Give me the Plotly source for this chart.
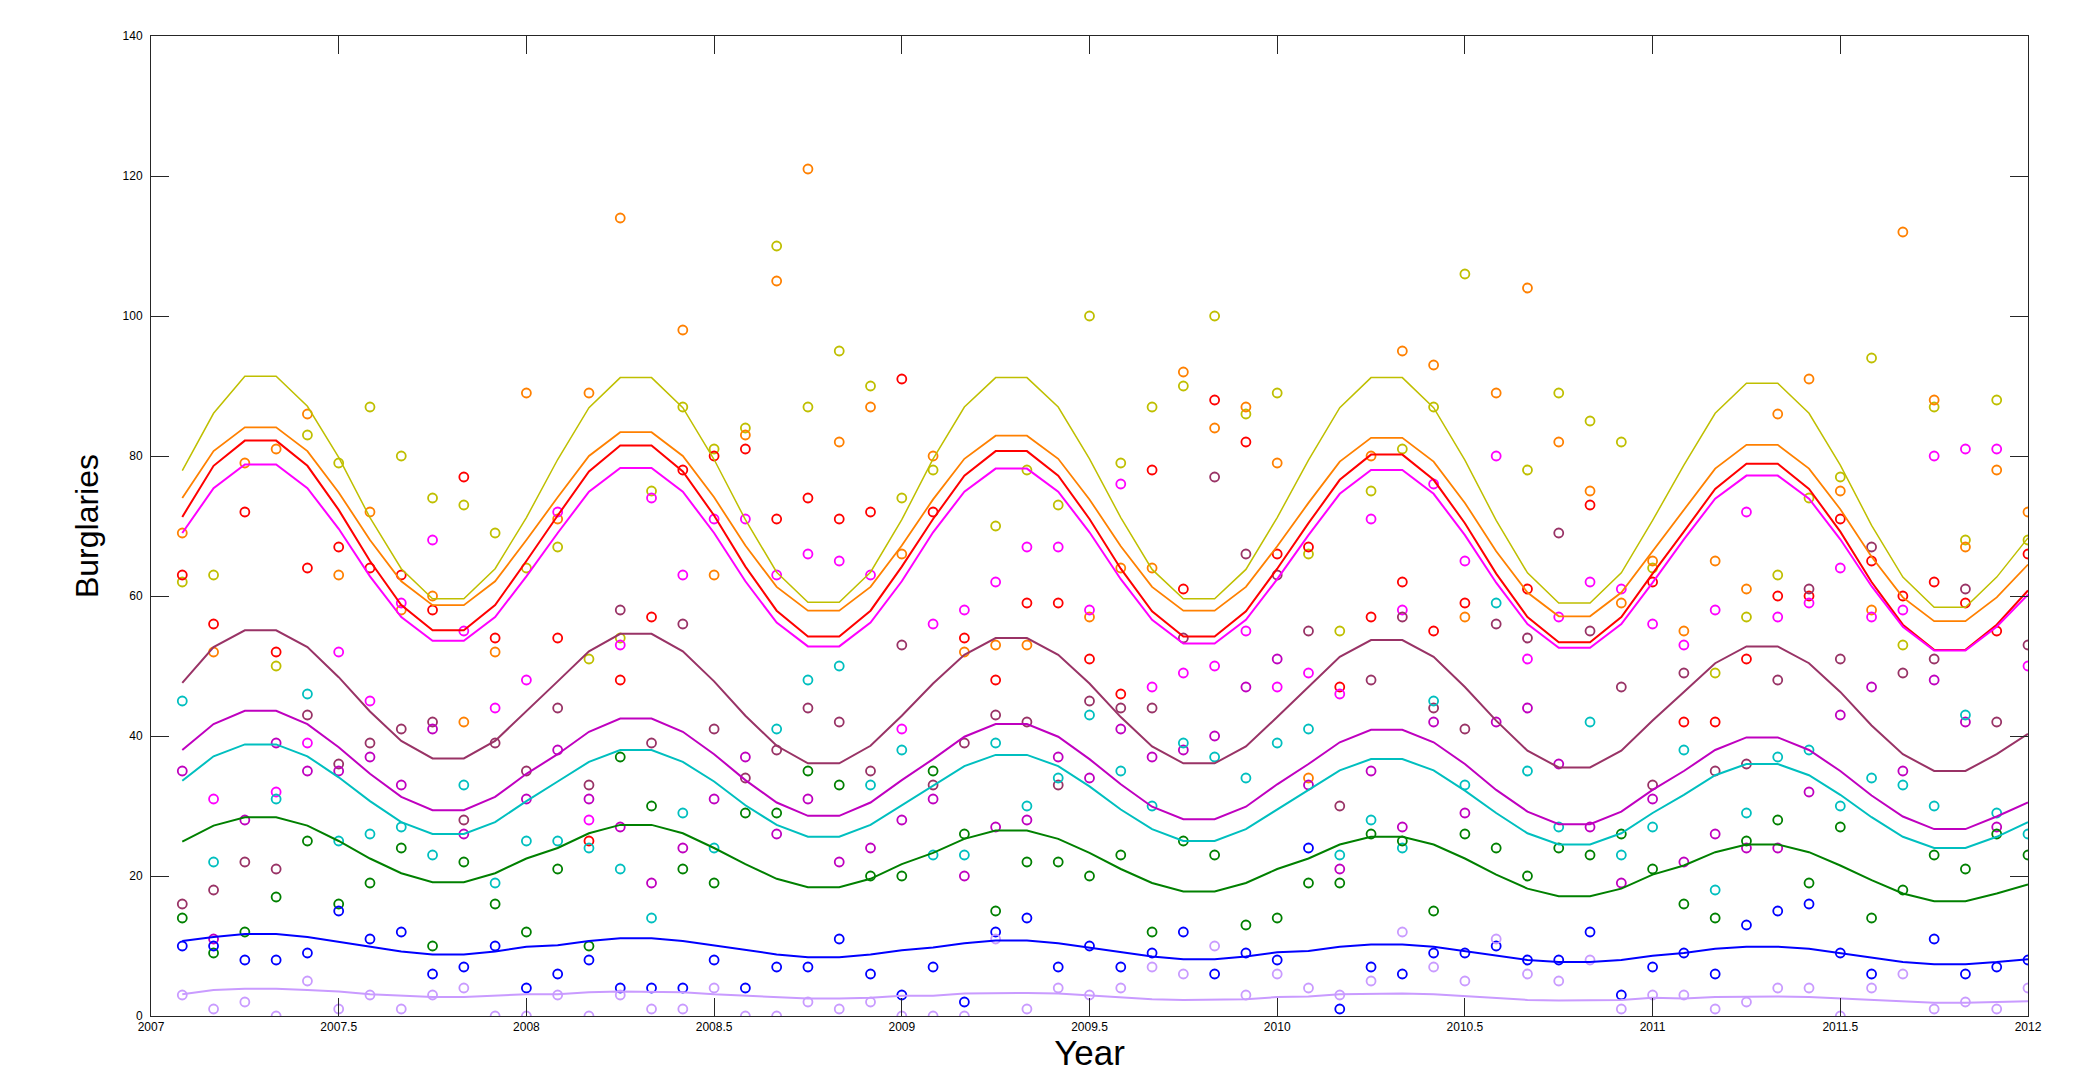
import plotly.graph_objects as go

# Monthly observation times (Feb 2007 .. Jan 2012 as decimal years)
months = [2007 + m / 12 for m in range(1, 61)]

x_tick_vals = [2007, 2007.5, 2008, 2008.5, 2009, 2009.5, 2010, 2010.5, 2011, 2011.5, 2012]
x_tick_text = ["2007", "2007.5", "2008", "2008.5", "2009", "2009.5", "2010", "2010.5", "2011", "2011.5", "2012"]
y_tick_vals = [0, 20, 40, 60, 80, 100, 120, 140]

series_names = ["Series 1", "Series 2", "Series 3", "Series 4", "Series 5",
                "Series 6", "Series 7", "Series 8", "Series 9", "Series 10"]
series_colors = ["#BFBF00", "#FF8000", "#FF0000", "#FF00FF", "#993366",
                 "#BF00BF", "#00BFBF", "#008000", "#0000FF", "#C99BFF"]

# Observed monthly burglaries (None = no visible point)
s1_pts = [62, 63, None, 50, 83, 79, 87, 80, 74, 73,
          69, 64, 67, 51, 54, 75, 87, 81, 84, 110,
          87, 95, 90, 74, 78, None, 70, 78, 73, 100,
          79, 87, 90, 100, 86, 89, 66, 55, 75, 81,
          87, 106, None, 78, 89, 85, 82, 64, None, 49,
          57, 63, 74, 77, 94, 53, 87, 68, 88, 68]
s2_pts = [69, 52, 79, 81, 86, 63, 72, 58, 60, 42,
          52, 89, 71, 89, 114, None, 98, 63, 83, 105,
          121, 82, 87, 66, 80, 52, 53, 53, None, 57,
          64, 64, 92, 84, 87, 79, 34, None, 80, 95,
          93, 57, 89, 104, 82, 75, 59, 65, 55, 65,
          61, 86, 91, 75, 58, 112, 88, 67, 78, 72]
s3_pts = [63, 56, 72, 52, 64, 67, 64, 63, 58, 77,
          54, None, 54, 25, 48, 57, 78, 80, 81, 71,
          74, 71, 72, 91, 72, 54, 48, 59, 59, 51,
          46, 78, 61, 88, 82, 66, 67, 47, 57, 62,
          55, 59, None, 61, None, 73, None, 62, 42, 42,
          51, 60, 60, 71, 65, 60, 62, 59, 55, 66]
s4_pts = [None, 31, None, 32, 39, 52, 45, 59, 68, 55,
          44, 48, 72, 28, 53, 74, 63, 71, 71, 63,
          66, 65, 63, 41, 56, 58, 62, 67, 67, 58,
          76, 47, 49, 50, 55, 47, 49, 46, 71, 58,
          76, 65, 80, 51, 57, 62, 61, 56, 53, 58,
          72, 57, 59, 64, 57, 58, 80, 81, 81, 50]
s5_pts = [16, 18, 22, 21, 43, 36, 39, 41, 42, 28,
          39, 35, 44, 33, 58, 39, 56, 41, 34, 38,
          44, 42, 35, 53, 33, 39, 43, 42, 33, 45,
          44, 44, 54, 77, 66, 63, 55, 30, 48, 57,
          44, 41, 56, 54, 69, 55, 47, 33, 49, 35,
          36, 48, 61, 51, 67, 49, 51, 61, 42, 53]
s6_pts = [35, 11, 28, 39, 35, 35, 37, 33, 41, 26,
          None, 31, 38, 31, 27, 19, 24, 31, 37, 26,
          31, 22, 24, 28, 31, 20, 27, 28, 37, 34,
          41, 37, 38, 40, 47, 51, 33, 21, 35, 27,
          42, 29, 42, 44, 36, 27, 19, 31, 22, 26,
          24, 24, 32, 43, 47, 35, 48, 42, 27, None]
s7_pts = [45, 22, None, 31, 46, 25, 26, 27, 23, 33,
          19, 25, 25, 24, 21, 14, 29, 24, None, 41,
          48, 50, 33, 38, 23, 23, 39, 30, 34, 43,
          35, 30, 39, 37, 34, 39, 41, 23, 28, 24,
          45, 33, 59, 35, 27, 42, 23, 27, 38, 18,
          29, 37, 38, 30, 34, 33, 30, 43, 29, 26]
s8_pts = [14, 9, 12, 17, 25, 16, 19, 24, 10, 22,
          16, 12, 21, 10, 37, 30, 21, 19, 29, 29,
          35, 33, 20, 20, 35, 26, 15, 22, 22, 20,
          23, 12, 25, 23, 13, 14, 19, 19, 26, 25,
          15, 26, 24, 20, 24, 23, 26, 21, 16, 14,
          25, 28, 19, 27, 14, 18, 23, 21, 26, 23]
s9_pts = [10, 10, 8, 8, 9, 15, 11, 12, 6, 7,
          10, 4, 6, 8, 4, 4, 4, 8, 4, 7,
          7, 11, 6, 3, 7, 2, 12, 14, 7, 10,
          7, 9, 12, 6, 9, 8, 24, 1, 7, 6,
          9, 9, 10, 8, 8, 12, 3, 7, 9, 6,
          13, 15, 16, 9, 6, None, 11, 6, 7, 8]
s10_pts = [3, 1, 2, 0, 5, 1, 3, 1, 3, 4,
           0, 0, 3, 0, 3, 1, 1, 4, 0, 0,
           2, 1, 2, 0, 0, 0, 11, 1, 4, 3,
           4, 7, 6, 10, 3, 6, 4, 3, 5, 12,
           7, 5, 11, 6, 5, 8, 1, 3, 3, 1,
           2, 4, 4, 0, 4, 6, 1, 2, 1, 4]

# Fitted seasonal curves (monthly)
s1_fit = [77.9, 86.1, 91.4, 91.4, 87.1, 79.8, 71.2, 63.9, 59.6, 59.6, 63.9, 71.2,
          79.5, 86.9, 91.2, 91.2, 86.9, 79.5, 70.9, 63.4, 59.1, 59.1, 63.4, 70.9,
          79.6, 87.0, 91.2, 91.2, 87.0, 79.6, 71.2, 63.8, 59.6, 59.6, 63.8, 71.2,
          79.4, 86.9, 91.2, 91.2, 86.9, 79.4, 70.8, 63.3, 59.0, 59.0, 63.3, 70.8,
          78.7, 86.1, 90.4, 90.4, 86.1, 78.7, 70.1, 62.7, 58.4, 58.4, 62.7, 68.3]
s2_fit = [74.0, 80.7, 84.1, 84.1, 80.7, 74.8, 68.0, 62.1, 58.7, 58.7, 62.1, 68.0,
          74.1, 80.0, 83.4, 83.4, 80.0, 74.1, 67.2, 61.3, 57.9, 57.9, 61.3, 67.2,
          73.8, 79.6, 82.9, 82.9, 79.6, 73.8, 67.1, 61.3, 57.9, 57.9, 61.3, 67.1,
          73.3, 79.2, 82.6, 82.6, 79.2, 73.3, 66.4, 60.5, 57.1, 57.1, 60.5, 66.4,
          72.4, 78.2, 81.6, 81.6, 78.2, 72.4, 65.6, 59.8, 56.4, 56.4, 59.8, 64.5]
s3_fit = [71.3, 78.6, 82.2, 82.2, 78.6, 72.3, 65.0, 58.7, 55.1, 55.1, 58.7, 65.0,
          71.5, 77.8, 81.5, 81.5, 77.8, 71.5, 64.2, 57.9, 54.2, 54.2, 57.9, 64.2,
          71.0, 77.2, 80.7, 80.7, 77.2, 71.0, 63.9, 57.8, 54.2, 54.2, 57.8, 63.9,
          70.4, 76.6, 80.2, 80.2, 76.6, 70.4, 63.2, 57.0, 53.4, 53.4, 57.0, 63.2,
          69.2, 75.3, 78.9, 78.9, 75.3, 69.2, 62.0, 55.9, 52.3, 52.3, 55.9, 60.8]
s4_fit = [69.0, 75.4, 78.8, 78.8, 75.4, 69.6, 62.8, 57.0, 53.6, 53.6, 57.0, 62.8,
          69.0, 74.9, 78.3, 78.3, 74.9, 69.0, 62.1, 56.2, 52.8, 52.8, 56.2, 62.1,
          69.1, 74.9, 78.2, 78.2, 74.9, 69.1, 62.4, 56.6, 53.2, 53.2, 56.6, 62.4,
          68.7, 74.6, 78.0, 78.0, 74.6, 68.7, 61.9, 56.0, 52.6, 52.6, 56.0, 61.9,
          68.1, 73.9, 77.2, 77.2, 73.9, 68.1, 61.4, 55.6, 52.2, 52.2, 55.6, 60.2]
s5_fit = [47.6, 52.7, 55.1, 55.1, 52.7, 48.4, 43.5, 39.3, 36.8, 36.8, 39.3, 43.5,
          47.8, 52.1, 54.6, 54.6, 52.1, 47.8, 42.9, 38.6, 36.1, 36.1, 38.6, 42.9,
          47.5, 51.6, 54.0, 54.0, 51.6, 47.5, 42.7, 38.5, 36.1, 36.1, 38.5, 42.7,
          47.0, 51.3, 53.7, 53.7, 51.3, 47.0, 42.2, 37.9, 35.5, 35.5, 37.9, 42.2,
          46.3, 50.4, 52.8, 52.8, 50.4, 46.3, 41.5, 37.4, 35.0, 35.0, 37.4, 40.3]
s6_fit = [38.0, 41.7, 43.6, 43.6, 41.7, 38.4, 34.6, 31.3, 29.4, 29.4, 31.3, 34.6,
          37.4, 40.6, 42.5, 42.5, 40.6, 37.4, 33.7, 30.5, 28.6, 28.6, 30.5, 33.7,
          36.7, 39.9, 41.7, 41.7, 39.9, 36.7, 33.1, 29.9, 28.1, 28.1, 29.9, 33.1,
          36.0, 39.1, 40.9, 40.9, 39.1, 36.0, 32.3, 29.2, 27.4, 27.4, 29.2, 32.3,
          35.0, 38.0, 39.8, 39.8, 38.0, 35.0, 31.5, 28.5, 26.7, 26.7, 28.5, 30.5]
s7_fit = [33.6, 37.1, 38.8, 38.8, 37.1, 34.1, 30.7, 27.7, 26.0, 26.0, 27.7, 30.7,
          33.5, 36.3, 38.0, 38.0, 36.3, 33.5, 30.1, 27.3, 25.6, 25.6, 27.3, 30.1,
          32.8, 35.7, 37.3, 37.3, 35.7, 32.8, 29.5, 26.7, 25.0, 25.0, 26.7, 29.5,
          32.2, 35.1, 36.7, 36.7, 35.1, 32.2, 29.0, 26.1, 24.5, 24.5, 26.1, 29.0,
          31.6, 34.4, 36.0, 36.0, 34.4, 31.6, 28.4, 25.6, 24.0, 24.0, 25.6, 27.7]
s8_fit = [24.9, 27.2, 28.4, 28.4, 27.2, 25.0, 22.5, 20.4, 19.1, 19.1, 20.4, 22.5,
          24.0, 26.1, 27.3, 27.3, 26.1, 24.0, 21.7, 19.6, 18.4, 18.4, 19.6, 21.7,
          23.3, 25.3, 26.5, 26.5, 25.3, 23.3, 21.0, 19.0, 17.8, 17.8, 19.0, 21.0,
          22.5, 24.5, 25.6, 25.6, 24.5, 22.5, 20.2, 18.2, 17.1, 17.1, 18.2, 20.2,
          21.5, 23.4, 24.5, 24.5, 23.4, 21.5, 19.4, 17.5, 16.4, 16.4, 17.5, 18.8]
s9_fit = [10.7, 11.3, 11.7, 11.7, 11.3, 10.6, 9.9, 9.2, 8.8, 8.8, 9.2, 9.9,
          10.1, 10.7, 11.1, 11.1, 10.7, 10.1, 9.4, 8.8, 8.4, 8.4, 8.8, 9.4,
          9.8, 10.4, 10.8, 10.8, 10.4, 9.8, 9.1, 8.5, 8.1, 8.1, 8.5, 9.1,
          9.3, 9.9, 10.2, 10.2, 9.9, 9.3, 8.6, 8.0, 7.7, 7.7, 8.0, 8.6,
          9.0, 9.6, 9.9, 9.9, 9.6, 9.0, 8.3, 7.7, 7.4, 7.4, 7.7, 8.1]
s10_fit = [3.1, 3.7, 3.9, 3.9, 3.7, 3.5, 3.1, 2.9, 2.7, 2.7, 2.9, 3.1,
           3.1, 3.4, 3.5, 3.5, 3.4, 3.1, 2.9, 2.6, 2.5, 2.5, 2.6, 2.9,
           2.9, 3.2, 3.3, 3.3, 3.2, 2.9, 2.7, 2.4, 2.3, 2.3, 2.4, 2.7,
           2.8, 3.1, 3.2, 3.2, 3.1, 2.8, 2.6, 2.3, 2.2, 2.2, 2.3, 2.6,
           2.5, 2.7, 2.8, 2.8, 2.7, 2.5, 2.2, 2.0, 1.9, 1.9, 2.0, 2.1]

points = [s1_pts, s2_pts, s3_pts, s4_pts, s5_pts, s6_pts, s7_pts, s8_pts, s9_pts, s10_pts]
fits = [s1_fit, s2_fit, s3_fit, s4_fit, s5_fit, s6_fit, s7_fit, s8_fit, s9_fit, s10_fit]
line_widths = [1.5, 1.8, 2, 2, 2, 2, 2, 2, 2, 2]

fig = go.Figure()
for name, color, pts in zip(series_names, series_colors, points):
    fig.add_trace(go.Scatter(
        x=months, y=pts, mode="markers", name=name, showlegend=False,
        marker=dict(symbol="circle-open", size=9, color=color, line=dict(width=1.8, color=color)),
    ))
for name, color, fit, lw in zip(series_names, series_colors, fits, line_widths):
    fig.add_trace(go.Scatter(
        x=months, y=fit, mode="lines", name=name + " fit", showlegend=False,
        line=dict(color=color, width=lw),
    ))

FONT = "Liberation Sans, Arial, sans-serif"
axis_font = dict(family=FONT, size=12, color="#000000")
fig.update_layout(
    width=2082, height=1064,
    margin=dict(l=143, r=62, t=28, b=56),
    paper_bgcolor="white", plot_bgcolor="white",
    font=dict(family=FONT, color="#000000"),
    xaxis=dict(
        range=[2007, 2012], tickvals=x_tick_vals, ticktext=x_tick_text,
        ticks="inside", ticklen=18, tickwidth=1, tickcolor="#262626",
        showline=True, linecolor="#262626", linewidth=1, mirror="allticks",
        showgrid=False, zeroline=False, tickfont=axis_font, automargin=False,
        title=dict(text="Year", font=dict(family=FONT, size=35, color="#000000"), standoff=13),
    ),
    yaxis=dict(
        range=[0, 140], tickvals=y_tick_vals,
        ticks="inside", ticklen=18, tickwidth=1, tickcolor="#262626",
        showline=True, linecolor="#262626", linewidth=1, mirror="allticks",
        showgrid=False, zeroline=False, tickfont=axis_font, automargin=False,
        ticklabelstandoff=5,
        title=dict(text="Burglaries", font=dict(family=FONT, size=32, color="#000000"), standoff=14),
    ),
)

fig.write_html("out.html")
